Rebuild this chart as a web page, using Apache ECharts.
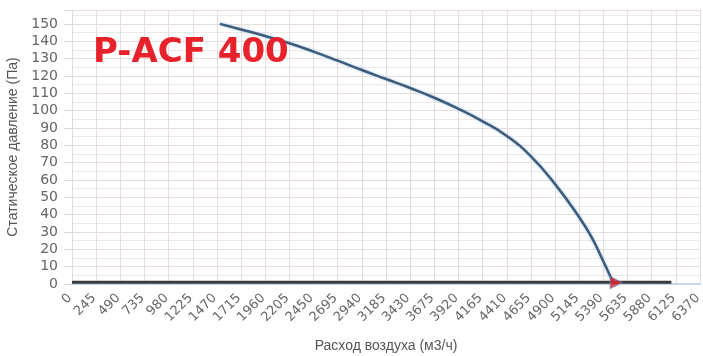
<!DOCTYPE html>
<html><head><meta charset="utf-8">
<script src="https://cdn.jsdelivr.net/npm/echarts@6/dist/echarts.min.js"></script>
<style>html,body{margin:0;padding:0;background:#fff}#c{width:703px;height:356px}</style>
</head><body><div id="c"></div>
<script>
const title = "P-ACF 400";
const xAxisName = "Расход воздуха (м3/ч)";
const yAxisName = "Статическое давление (Па)";
const xMin = 0, xMax = 6370, xStep = 245;
const yMin = 0, yMax = 158, yStep = 10;

const curveFlow = [1500,1715,1960,2205,2450,2695,2940,3185,3430,3675,3920,4165,4410,4655,4900,5145,5270,5390,5460,5500];
const curvePressure = [150,146.8,143,138.8,134,128.8,123.4,118.2,113,107.4,101,93.8,85.4,73.6,57.6,38.5,27,13,4.5,0];

const systemFlow = [0, 6080];
const systemPressure = [1, 1];

const opPointFlow = [5520];
const opPointPressure = [0.8];

const chart = echarts.init(document.getElementById('c'), null, {renderer:'canvas'});
const zip = (a,b)=>a.map((v,i)=>[v,b[i]]);
chart.setOption({
  animation:false,
  title:{text:title,left:93,top:36,padding:0,
    textStyle:{color:'#e8222b',fontSize:34,fontWeight:'bold',fontFamily:'DejaVu Sans'}},
  grid:{left:72,right:3,top:10,bottom:72,containLabel:false,outerBoundsMode:'none'},
  xAxis:{type:'value',min:xMin,max:xMax,interval:xStep,
    name:xAxisName,nameLocation:'middle',nameGap:55,
    nameTextStyle:{color:'#555',fontSize:14,fontFamily:'Liberation Sans, Arial, sans-serif'},
    axisLine:{show:true,onZero:false,lineStyle:{color:'#c8d8ea',width:2}},
    axisTick:{show:false},
    axisLabel:{rotate:45,color:'#666',fontSize:13,margin:10,padding:[0,3,0,0],fontFamily:'DejaVu Sans, sans-serif',
      formatter:v=>String(v)},
    splitLine:{show:true,lineStyle:{color:'#e6dcdc',width:1}}},
  yAxis:{type:'value',min:yMin,max:yMax,interval:yStep,
    name:yAxisName,nameLocation:'middle',nameGap:50,nameRotate:90,
    nameTextStyle:{color:'#555',fontSize:14,fontFamily:'Liberation Sans, Arial, sans-serif'},
    axisLine:{show:true,lineStyle:{color:'#dcdcdc',width:1}},
    axisTick:{show:true,length:8,lineStyle:{color:'#d8d8d8'}},
    axisLabel:{color:'#666',fontSize:14,margin:14,fontFamily:'DejaVu Sans, sans-serif',
      formatter:v=> (v%10===0 && v<=150) ? String(v) : ''},
    splitLine:{show:true,lineStyle:{color:'#e6dcdc',width:1}},
    minorTick:{show:false,splitNumber:2},
    minorSplitLine:{show:true,lineStyle:{color:'#eee8e8',width:1}}},
  series:[
    {type:'line',data:zip(systemFlow,systemPressure),showSymbol:false,
     lineStyle:{color:'#3a3a3a',width:3},z:2},
    {type:'line',data:zip(curveFlow,curvePressure),showSymbol:false,smooth:0.5,
     lineStyle:{color:'#3d5c7a',width:2.5,shadowColor:'rgba(150,190,230,0.8)',shadowBlur:3},z:3},
    {type:'scatter',data:zip(opPointFlow,opPointPressure),symbol:'triangle',symbolRotate:-90,symbolSize:12,
     itemStyle:{color:'#e0202a',borderColor:'#6a7fb0',borderWidth:1},z:4}
  ]
});
</script></body></html>
